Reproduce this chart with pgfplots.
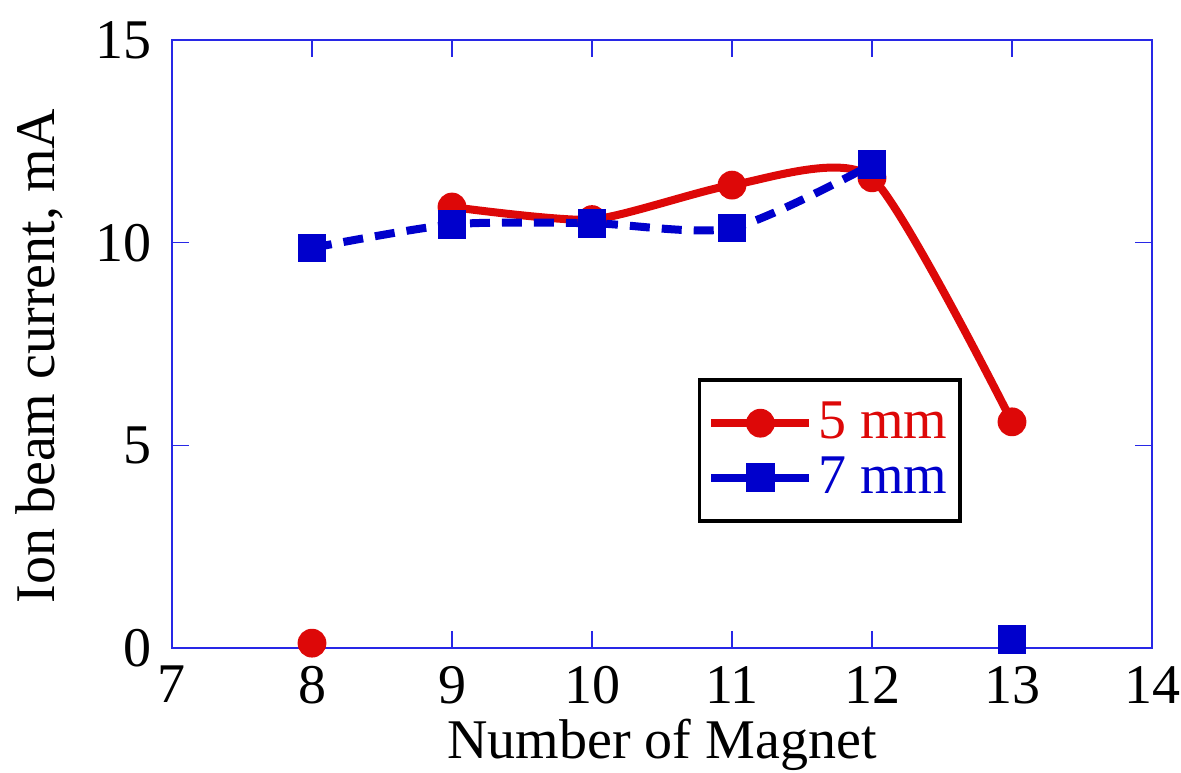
\documentclass[border=0pt]{standalone}
\usepackage{fontspec}
\setmainfont{Liberation Serif}
\usepackage{pgfplots}
\pgfplotsset{compat=1.18}
\definecolor{cred}{RGB}{221,8,8}
\definecolor{cblue}{RGB}{0,0,204}
\definecolor{caxis}{RGB}{40,40,230}

\begin{document}
\begin{tikzpicture}
\begin{axis}[
    name=ax,
    scale only axis,
    width=245pt, height=152pt,
    xmin=7, xmax=14, ymin=0, ymax=15,
    xtick={7,...,14}, ytick={0,5,10,15},
    tick align=inside,
    major tick length=4.25pt,
    axis line style={caxis, line width=0.4pt},
    every tick/.style={caxis, line width=0.4pt},
    tick label style={font=\fontsize{14}{16}\selectfont, black},
    /pgf/number format/assume math mode=true,
    xticklabel style={yshift=-1pt},
    yticklabel style={xshift=-1.5pt},
    every axis x label/.style={at={(axis description cs:0.5,-0.181)}, anchor=base},
    every axis y label/.style={at={(axis description cs:-0.1194,0.48)}, rotate=90, anchor=base},
    label style={font=\fontsize{14}{16}\selectfont},
    xlabel={Number of Magnet},
    ylabel={Ion beam current, mA},
    legend style={at={(0.806,0.444)}, anchor=north east, draw=black, line width=0.9pt,
        font=\fontsize{14}{16}\selectfont, inner xsep=2pt, inner ysep=3.5pt, row sep=-1pt,
        nodes={inner xsep=1.2pt}},
    legend cell align=left,
    legend image code/.code={\draw[mark repeat=2,mark phase=2] plot coordinates {(0cm,0cm) (0.43cm,0cm) (0.86cm,0cm)};},
]
% 5 mm
\addplot[cred, line width=2pt, smooth, tension=0.38, mark=*, mark size=3.4pt, mark options={solid, line width=0.4pt}]
  coordinates {(9,10.88) (10,10.57) (11,11.42) (12,11.6) (13,5.58)};
\addlegendentry{\textcolor{cred}{5 mm}}
% 7 mm
\addplot[cblue, line width=2pt, dash pattern=on 5pt off 3pt, smooth, tension=0.45, mark=square*, mark size=3.4pt, mark options={solid, line width=0.4pt},
  legend image post style={solid}]
  coordinates {(8,9.87) (9,10.45) (10,10.48) (11,10.36) (12,11.93)};
\addlegendentry{\textcolor{cblue}{7 mm}}
% isolated points
\addplot[cred, only marks, mark=*, mark size=3.4pt, forget plot] coordinates {(8,0.12)};
\addplot[cblue, only marks, mark=square*, mark size=3.4pt, forget plot] coordinates {(13,0.21)};
\end{axis}
\pgfresetboundingbox
\path ([xshift=-43pt,yshift=-31pt]ax.south west) rectangle ([xshift=7.25pt,yshift=10pt]ax.north east);
\end{tikzpicture}
\end{document}
